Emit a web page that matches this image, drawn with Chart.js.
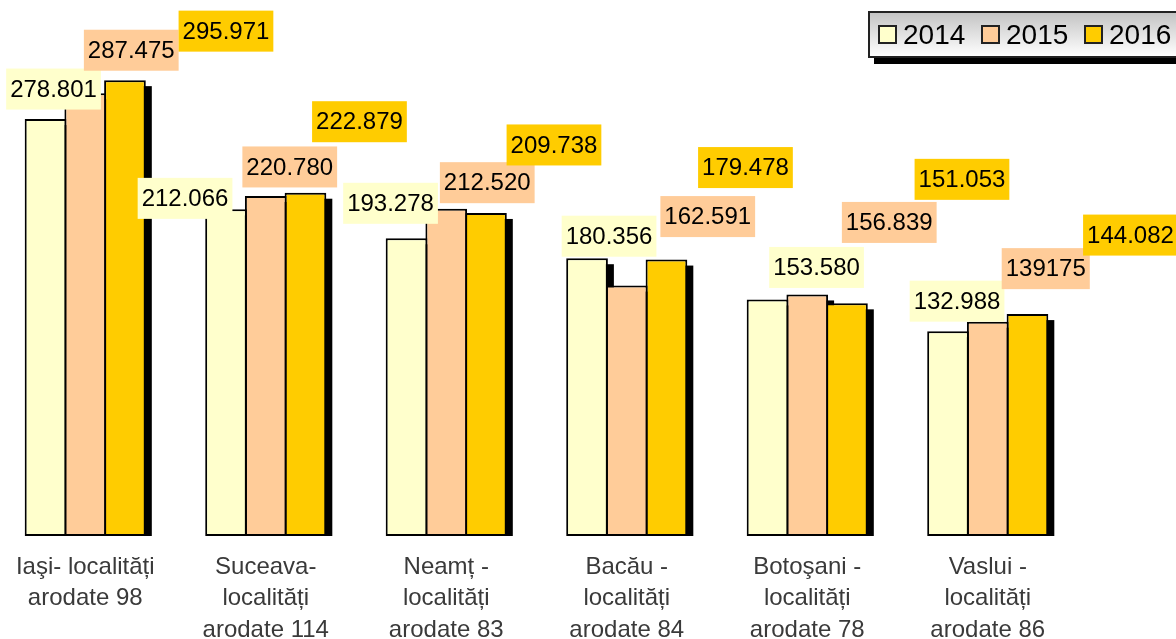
<!DOCTYPE html>
<html lang="ro">
<head>
    <meta charset="UTF-8">
    <title>Localități arondate</title>
    <script src="https://cdn.jsdelivr.net/npm/chart.js"></script>
    <style>
        html, body { margin: 0; padding: 0; background: #fff; overflow: hidden; }
        body { width: 1176px; height: 639px; position: relative; font-family: "Liberation Sans", Arial, sans-serif; }
        #wrap { position: absolute; left: -5px; top: 0; width: 1181px; height: 639px; }
        #legenda {
            position: absolute; left: 868px; top: 11px; width: 330px; height: 43px;
            border: 2px solid #222; background: linear-gradient(#c4c4c4, #ffffff);
            box-shadow: 6px 6px 0 #000; display: flex; align-items: center; padding-left: 8px;
        }
        .item { display: flex; align-items: center; width: 103px; font-size: 28px; color: #000; }
        .patrat { width: 15px; height: 15px; border: 2px solid #222; margin-right: 6px; }
    </style>
</head>
<body>
    <div id="wrap"><canvas id="grafic"></canvas></div>
    <div id="legenda"></div>

    <script>
        // Date
        const judete = [
            ['Iaşi- localități', 'arodate 98'],
            ['Suceava-', 'localități', 'arodate 114'],
            ['Neamț -', 'localități', 'arodate 83'],
            ['Bacău -', 'localități', 'arodate 84'],
            ['Botoşani -', 'localități', 'arodate 78'],
            ['Vaslui -', 'localități', 'arodate 86']
        ];
        const ani = ['2014', '2015', '2016'];
        const valori2014 = [270.7, 212.066, 193.278, 180.356, 153.580, 132.988];
        const valori2015 = [287.475, 220.780, 212.520, 162.591, 156.839, 139.175];
        const valori2016 = [295.971, 222.879, 209.738, 179.478, 151.053, 144.082];
        const etichete2014 = ['278.801', '212.066', '193.278', '180.356', '153.580', '132.988'];
        const etichete2015 = ['287.475', '220.780', '212.520', '162.591', '156.839', '139175'];
        const etichete2016 = ['295.971', '222.879', '209.738', '179.478', '151.053', '144.082'];

        const culori = ['#FFFFCC', '#FFCC99', '#FFCC00'];

        // pozitia etichetelor fata de varful barei (dx, dy)
        const decalaje = [
            [[8, -30], [-41, -11], [-16, -35], [22, -22], [49, -32], [9, -30]],
            [[46, -43], [24, -29], [41, -26], [81, -69], [82, -72], [58, -53]],
            [[101, -49], [54, -71], [68, -68], [79, -92], [115, -124], [103, -79]]
        ];

        // Legenda
        const legenda = document.getElementById('legenda');
        ani.forEach((an, i) => {
            const d = document.createElement('div');
            d.className = 'item';
            d.innerHTML = '<span class="patrat" style="background:' + culori[i] + '"></span>' + an;
            legenda.appendChild(d);
        });

        // Umbra barelor
        const umbre = {
            id: 'umbre',
            beforeDatasetsDraw(chart) {
                const ctx = chart.ctx;
                const a = chart.chartArea;
                ctx.save();
                ctx.beginPath();
                ctx.rect(a.left, a.top, a.right - a.left + 20, a.bottom - a.top);
                ctx.clip();
                ctx.fillStyle = '#000';
                chart.data.datasets.forEach((ds, i) => {
                    chart.getDatasetMeta(i).data.forEach(el => {
                        const p = el.getProps(['x', 'y', 'width', 'base'], true);
                        ctx.fillRect(p.x - p.width / 2 + 6, p.y + 6, p.width, p.base - p.y);
                    });
                });
                ctx.restore();
            }
        };

        // Etichetele cu valori
        const etichete = {
            id: 'etichete',
            afterDatasetsDraw(chart) {
                const ctx = chart.ctx;
                const texte = [etichete2014, etichete2015, etichete2016];
                ctx.save();
                ctx.font = '24px "Liberation Sans", Arial, sans-serif';
                ctx.textAlign = 'center';
                ctx.textBaseline = 'middle';
                chart.data.datasets.forEach((ds, i) => {
                    chart.getDatasetMeta(i).data.forEach((el, j) => {
                        const t = texte[i][j];
                        const cx = el.x + decalaje[i][j][0];
                        const cy = el.y + decalaje[i][j][1];
                        const w = ctx.measureText(t).width + 8;
                        const h = 41;
                        ctx.fillStyle = culori[i];
                        ctx.fillRect(cx - w / 2, cy - h / 2, w, h);
                        ctx.fillStyle = '#000';
                        ctx.fillText(t, cx, cy + 1);
                    });
                });
                ctx.restore();
            }
        };

        const grafic = new Chart(document.getElementById('grafic'), {
            type: 'bar',
            data: {
                labels: judete,
                datasets: [valori2014, valori2015, valori2016].map((v, i) => ({
                    label: ani[i],
                    data: v,
                    backgroundColor: culori[i],
                    borderColor: '#000',
                    borderWidth: 2,
                    borderSkipped: false,
                    barPercentage: 1.05,
                    categoryPercentage: 0.66
                }))
            },
            options: {
                responsive: true,
                maintainAspectRatio: false,
                animation: false,
                layout: { padding: { left: 0, right: 98, top: 0, bottom: 0 } },
                plugins: { legend: { display: false }, tooltip: { enabled: false } },
                scales: {
                    x: {
                        grid: { display: false, drawTicks: false },
                        border: { display: false },
                        ticks: {
                            color: '#3a3a3a',
                            padding: 16,
                            maxRotation: 0,
                            autoSkip: false,
                            font: { family: '"Liberation Sans", Arial, sans-serif', size: 24, lineHeight: 1.3 }
                        },
                        afterFit(scale) { scale.height = 103; }
                    },
                    y: { display: false, min: 0, max: 348 }
                }
            },
            plugins: [umbre, etichete]
        });
    </script>
</body>
</html>
